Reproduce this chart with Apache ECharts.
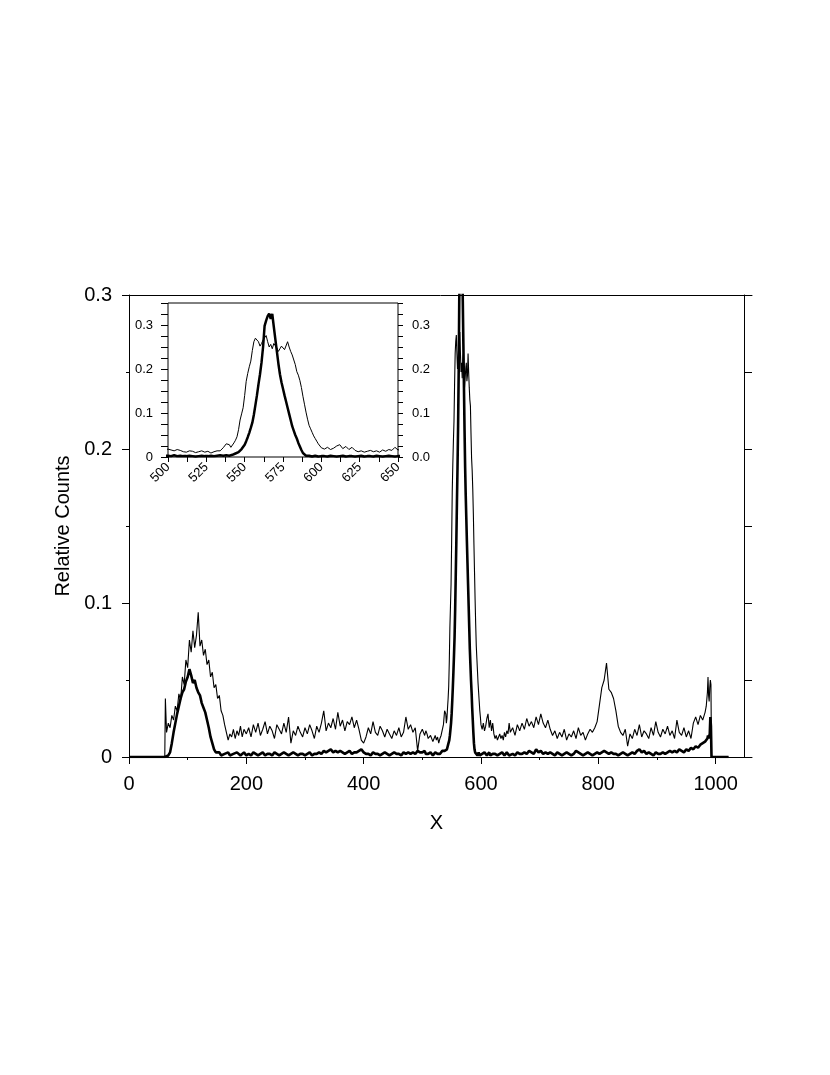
<!DOCTYPE html>
<html>
<head>
<meta charset="utf-8">
<title>Relative Counts</title>
<script src="https://cdn.jsdelivr.net/npm/echarts@6/dist/echarts.min.js"></script>
<style>
  html, body { margin: 0; padding: 0; background: #fff; }
  #chart { width: 830px; height: 1075px; }
</style>
</head>
<body>
<div id="chart"></div>
<script>
// sample positions along X (finer around the main peak, shown in the inset)
const sampleX = [
  0, 61, 62, 64, 67, 70, 73, 76, 79, 82, 85, 88, 91, 94, 97, 100, 103, 106, 109, 112, 115, 118, 121, 124, 127, 130, 133, 136, 139, 142, 145, 148, 151, 154, 157, 160, 163, 166, 169, 172, 175, 178, 181, 184, 187, 190, 193, 196, 200,
  204, 208, 212, 216, 220, 224, 228, 232, 236, 240, 244, 248, 252, 256, 260, 264, 268, 272, 276, 280, 284, 288, 292, 296, 300, 304, 308, 312, 316, 320, 324, 328, 332, 336, 340, 344, 348, 352, 356, 360, 364, 368, 372, 376, 380, 384, 388, 392, 396, 400, 404, 408, 412, 416, 420, 424, 428, 432, 436, 440, 444, 448, 452, 456, 460, 464, 468, 472, 476, 480, 484, 488, 492, 496,
  500, 502, 504, 506, 508, 510, 512, 514, 516, 518, 520, 522, 524, 526, 528, 530, 532, 534, 536, 538,
  540, 541, 542, 543, 544, 545, 546, 547, 548, 549,
  550, 551, 552, 553, 554, 555, 556, 557, 558, 559,
  560, 561, 562, 563, 564, 565, 566, 567, 568, 569,
  570, 571, 572, 573, 574, 575, 576, 577, 578, 579,
  580, 581, 582, 583, 584, 585, 586, 587, 588, 589,
  590, 591, 592, 593, 594, 595, 596, 597, 598, 599, 600,
  602, 604, 606, 608, 610, 612, 614, 616, 618, 620, 622, 624, 626, 628, 630, 632, 634, 636, 638, 640, 642, 644, 646, 648, 650,
  654, 658, 662, 666, 670, 674, 678, 682, 686, 690, 694, 698, 702, 706, 710, 714, 718, 722, 726, 730, 734, 738, 742, 746, 750, 754, 758, 762, 766, 770, 774, 778, 782, 786, 790, 794, 798, 802, 806, 810, 814, 818, 822, 826, 830, 834, 838, 842, 846, 850, 854, 858, 862, 866, 870, 874, 878, 882, 886, 890, 894, 898, 902, 906, 910, 914, 918, 922, 926, 930, 934, 938, 942, 946, 950, 954, 958, 962, 966, 970, 974, 978, 982,
  984, 986, 987, 988, 989, 990, 991, 992, 993, 1000, 1022
];

// thin trace, relative counts x 1000
const thinCounts = [
  0, 0, 38, 16, 22, 19, 27, 24, 33, 30, 41, 37, 52, 47, 63, 58, 76, 68, 82, 71, 79, 94, 72, 76, 66, 70, 60, 63, 52, 55, 45, 47, 38, 40, 30, 27, 21, 16, 11, 15, 13, 18, 12, 17, 14, 20, 13, 18, 15,
  19, 13, 21, 16, 22, 14, 18, 23, 15, 20, 17, 12, 21, 18, 15, 22, 16,
  26, 9, 17, 14, 20, 16, 13, 19,
  15, 21, 17, 12, 20, 16, 22,
  30, 17, 22, 19, 25, 18, 29, 20, 24, 17, 23, 21, 26, 19, 24, 18,
  11, 9, 13,
  19, 15, 23, 16, 14, 20, 17, 13, 18, 15, 12, 17, 14, 19, 13, 16,
  26, 18, 21, 16, 19,
  4, 15,
  18, 16, 14, 17, 15, 12, 11, 14, 13, 10, 12, 14, 11, 13, 9, 12, 14, 14, 21, 30,
  28, 22, 25, 32, 38, 46, 62, 84, 98, 112,
  140, 172, 190, 205, 218, 242, 262, 270, 274, 262,
  252, 258, 266, 270, 276, 262, 250, 256, 246, 258,
  262, 248, 240, 246, 252, 256, 244, 248, 262, 250,
  240, 232, 228, 210, 194, 186, 174, 158, 138, 120,
  102, 86, 72, 64, 56, 48, 42, 36, 30, 26, 21,
  18, 22, 17, 20, 25, 28, 19, 24, 17, 22, 15, 12, 14, 11, 13, 15, 12, 14, 11, 16, 13, 17, 15, 22, 16,
  19, 14, 21, 17,
  22, 18, 25, 20, 23, 19, 26, 21, 28, 22, 19, 24, 18,
  14, 17, 12, 16, 13, 18, 11, 15, 13, 17, 12, 19, 14, 16, 11, 15, 18, 16, 19,
  23, 34, 45, 50, 61, 44, 42, 38, 30, 20, 16, 14, 18,
  7, 15, 12, 18, 14, 21, 13, 17, 15, 12, 19, 14, 23, 16, 13, 18, 15, 20, 14, 17, 12, 24, 16, 14, 19, 13, 17, 12,
  22, 26, 21, 27, 24, 29,
  33, 42, 52, 40, 36, 45, 50, 47, 0, 0, 0
];

// thick trace, relative counts x 1000
const thickCounts = [
  0, 0, 0, 0, 1, 3, 9, 16, 22, 28, 33, 38, 42, 44, 49, 52, 57, 53, 48, 50, 45, 42, 40, 35, 32, 29, 24, 19, 13, 9, 5, 3, 2, 3, 1, 2, 2, 1, 3, 1, 2, 2, 1, 3, 2, 1, 2, 3, 1,
  2, 1, 3, 2, 1, 2, 3, 1, 2, 2, 1, 3, 2, 1, 2, 3, 2,
  1, 2, 3, 2, 1, 2, 2, 1,
  2, 3, 1, 2, 2, 3, 2,
  4, 3, 4, 5, 3, 4, 3, 4, 3, 2, 3, 4, 2, 3, 3, 4,
  5, 3, 2,
  2, 1, 3, 2, 2, 1, 2, 3, 2, 1, 2, 3, 2, 2, 1, 3,
  2, 3, 2, 3, 2,
  4, 3,
  3, 2, 4, 2, 3, 2, 2, 3, 2, 1, 2, 3, 2, 2, 3, 2, 3, 4, 3, 4,
  3, 4, 5, 6, 8, 9, 11, 14, 18, 22,
  28, 36, 45, 55, 66, 78, 96, 118, 140, 165,
  188, 215, 250, 298, 310, 320, 326, 314, 325, 296,
  268, 240, 212, 188, 170, 155, 140, 126, 112, 98,
  84, 70, 60, 50, 42, 32, 24, 16, 9, 5,
  3, 2, 3, 2, 1, 2, 3, 2, 1, 2, 2,
  2, 1, 3, 2, 1, 2, 3, 1, 2, 2, 1, 2, 3, 1, 2, 2, 1, 3, 2, 1, 2, 3, 2, 1, 2,
  2, 1, 3, 2,
  2, 3, 2, 4, 3, 2, 5, 3, 4, 2, 3, 2, 3,
  2, 1, 3, 2, 1, 2, 3, 2, 1, 2, 4, 3, 2, 1, 2, 3, 2, 1, 2,
  3, 2, 3, 4, 3, 2, 3, 2, 2, 1, 2, 3, 2,
  1, 2, 3, 2, 4, 5, 3, 4, 2, 3, 2, 1, 3, 2, 2, 3, 2, 3, 4, 3, 4, 3, 5, 4, 3, 5, 4, 6,
  5, 7, 6, 8, 9, 10,
  11, 12, 14, 12, 13, 15, 26, 20, 0, 0, 0
];

// tick positions
const mainXTicks = [0, 200, 400, 600, 800, 1000];
const mainXMinor = [100, 300, 500, 700, 900];
const mainYTicks = [0, 0.1, 0.2, 0.3];
const mainYMinor = [0.05, 0.15, 0.25];
const rightYTicks = [0, 0.05, 0.1, 0.15, 0.2, 0.25, 0.3];
const insetXLabels = [500, 525, 550, 575, 600, 625, 650];
const insetXTicks = [500, 512.5, 525, 537.5, 550, 562.5, 575, 587.5, 600, 612.5, 625, 637.5, 650];
const insetYLabels = [0, 0.1, 0.2, 0.3];
const insetYTicks = [0, 0.025, 0.05, 0.075, 0.1, 0.125, 0.15, 0.175, 0.2, 0.225, 0.25, 0.275, 0.3, 0.325, 0.35];

const FONT = 'Liberation Sans, Arial, Helvetica, sans-serif';
const BLACK = '#000';

const thinData = sampleX.map((x, i) => [x, thinCounts[i] / 1000]);
const thickData = sampleX.map((x, i) => [x, thickCounts[i] / 1000]);

function axisBase(extra) {
  return Object.assign({
    type: 'value',
    splitLine: { show: false },
    axisLine: { show: false, onZero: false, lineStyle: { color: BLACK, width: 1 } },
    axisTick: { show: false, lineStyle: { color: BLACK, width: 1 } },
    axisLabel: { show: false, color: BLACK, fontFamily: FONT }
  }, extra);
}

const chart = echarts.init(document.getElementById('chart'), null, { renderer: 'canvas' });

const option = {
  animation: false,
  backgroundColor: '#fff',
  grid: [
    { left: 129, right: 78, top: 295, bottom: 318, outerBoundsMode: 'none' },
    {
      left: 168, right: 432, top: 303, bottom: 618, outerBoundsMode: 'none',
      show: true, backgroundColor: '#fff', borderColor: BLACK, borderWidth: 1
    }
  ],
  xAxis: [
    axisBase({
      gridIndex: 0, position: 'bottom', min: 0, max: 1062,
      axisLine: { show: true, onZero: false, lineStyle: { color: BLACK, width: 1 } },
      axisTick: { show: true, length: 7, customValues: mainXTicks, lineStyle: { color: BLACK } },
      axisLabel: {
        show: true, customValues: mainXTicks, margin: 17, fontSize: 20, color: BLACK, fontFamily: FONT,
        formatter: (v) => String(v)
      },
      name: 'X', nameLocation: 'middle', nameGap: 56,
      nameTextStyle: { fontSize: 20, color: BLACK, fontFamily: FONT, padding: [0, 8, 0, 0] }
    }),
    axisBase({
      gridIndex: 0, position: 'bottom', min: 0, max: 1062,
      axisTick: { show: true, length: 3, customValues: mainXMinor, lineStyle: { color: BLACK } }
    }),
    axisBase({
      gridIndex: 0, position: 'top', min: 0, max: 1062,
      axisLine: { show: true, onZero: false, lineStyle: { color: BLACK, width: 1 } }
    }),
    axisBase({
      gridIndex: 1, position: 'bottom', min: 500, max: 650,
      axisTick: { show: true, length: 5, customValues: insetXTicks, lineStyle: { color: BLACK } },
      axisLabel: { show: true, customValues: insetXLabels, rotate: 45, margin: 8, fontSize: 13, color: BLACK, fontFamily: FONT }
    })
  ],
  yAxis: [
    axisBase({
      gridIndex: 0, position: 'left', min: 0, max: 0.3,
      axisLine: { show: true, onZero: false, lineStyle: { color: BLACK, width: 1 } },
      axisTick: { show: true, length: 7, customValues: mainYTicks, lineStyle: { color: BLACK } },
      axisLabel: { show: true, customValues: mainYTicks, margin: 17, fontSize: 20, color: BLACK, fontFamily: FONT },
      name: 'Relative Counts', nameLocation: 'middle', nameGap: 55,
      nameTextStyle: { fontSize: 20, color: BLACK, fontFamily: FONT }
    }),
    axisBase({
      gridIndex: 0, position: 'left', min: 0, max: 0.3,
      axisTick: { show: true, length: 3, customValues: mainYMinor, lineStyle: { color: BLACK } }
    }),
    axisBase({
      gridIndex: 0, position: 'right', offset: -8, min: 0, max: 0.3,
      axisLine: { show: true, onZero: false, lineStyle: { color: BLACK, width: 1 } },
      axisTick: { show: true, length: 8, customValues: rightYTicks, lineStyle: { color: BLACK } }
    }),
    axisBase({
      gridIndex: 1, position: 'left', min: 0, max: 0.35,
      axisTick: { show: true, length: 7, customValues: insetYTicks, lineStyle: { color: BLACK } },
      axisLabel: { show: true, customValues: insetYLabels, margin: 15, fontSize: 13, color: BLACK, fontFamily: FONT }
    }),
    axisBase({
      gridIndex: 1, position: 'right', min: 0, max: 0.35,
      axisTick: { show: true, length: 5, customValues: insetYTicks, lineStyle: { color: BLACK } },
      axisLabel: {
        show: true, customValues: insetYLabels, margin: 14, fontSize: 13, color: BLACK, fontFamily: FONT,
        formatter: (v) => v.toFixed(1)
      }
    })
  ],
  series: [
    {
      type: 'line', xAxisIndex: 0, yAxisIndex: 0, data: thinData,
      showSymbol: false, symbol: 'none', clip: true,
      lineStyle: { color: BLACK, width: 1.1 }
    },
    {
      type: 'line', xAxisIndex: 0, yAxisIndex: 0, data: thickData,
      showSymbol: false, symbol: 'none', clip: true,
      lineStyle: { color: BLACK, width: 2.6 }
    },
    {
      type: 'line', xAxisIndex: 3, yAxisIndex: 3, data: thinData,
      showSymbol: false, symbol: 'none', clip: true,
      lineStyle: { color: BLACK, width: 1 }
    },
    {
      type: 'line', xAxisIndex: 3, yAxisIndex: 3, data: thickData,
      showSymbol: false, symbol: 'none', clip: true,
      lineStyle: { color: BLACK, width: 2.5 }
    }
  ]
};

chart.setOption(option);
</script>
</body>
</html>
